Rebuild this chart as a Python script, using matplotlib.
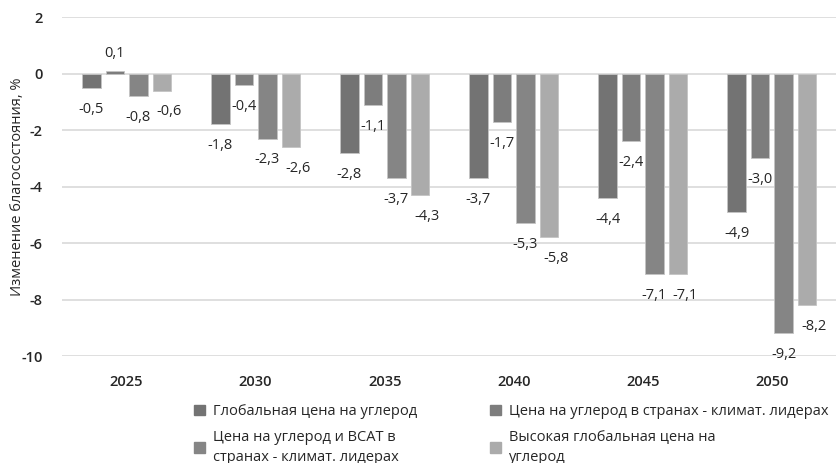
import matplotlib
matplotlib.use("Agg")
import matplotlib.pyplot as plt
import numpy as np

plt.rcParams['font.family'] = ['Open Sans', 'DejaVu Sans']

years = ["2025", "2030", "2035", "2040", "2045", "2050"]
series_names = [
    "Глобальная цена на углерод",
    "Цена на углерод в странах - климат. лидерах",
    "Цена на углерод и ВСАТ в\nстранах - климат. лидерах",
    "Высокая глобальная цена на\nуглерод",
]
global_price = [-0.5, -1.8, -2.8, -3.7, -4.4, -4.9]
leaders_price = [0.1, -0.4, -1.1, -1.7, -2.4, -3.0]
leaders_cbam = [-0.8, -2.3, -3.7, -5.3, -7.1, -9.2]
high_global = [-0.6, -2.6, -4.3, -5.8, -7.1, -8.2]
y_ticks = [2, 0, -2, -4, -6, -8, -10]

values = [global_price, leaders_price, leaders_cbam, high_global]
colors = ["#737373", "#7d7d7d", "#858585", "#ababab"]
# horizontal nudge of value labels per series (points)
label_dx = [0, 0, 0, 5]

fig = plt.figure(figsize=(8.38, 4.63), dpi=100)
ax = fig.add_axes([0.074, 0.231, 0.924, 0.732])

x = np.arange(len(years))
pitch = 0.182
width = 0.143
text_color = "#262626"

for i, (vals, col) in enumerate(zip(values, colors)):
    offs = (i - 1.5) * pitch
    ax.bar(x + offs, vals, width=width, color=col,
           edgecolor="#c4c4c4", linewidth=0.6, zorder=3)
    for xi, v in zip(x + offs, vals):
        lbl = f"{v:.1f}".replace(".", ",")
        if v >= 0:
            ax.annotate(lbl, (xi, v), xytext=(label_dx[i], 7), textcoords="offset points",
                        ha="center", va="bottom", fontsize=10.5, color=text_color)
        else:
            ax.annotate(lbl, (xi, v), xytext=(label_dx[i], -10), textcoords="offset points",
                        ha="center", va="top", fontsize=10.5, color=text_color)

ax.set_xlim(-0.5, len(years) - 0.5)
ax.set_ylim(-10, 2)
ax.set_yticks(y_ticks)
ax.set_yticklabels([str(t) for t in y_ticks])
ax.set_xticks(x)
ax.set_xticklabels(years)
ax.yaxis.grid(True, color="#d9d9d9", linewidth=1.2, zorder=0)
ax.set_axisbelow(True)
for s in ax.spines.values():
    s.set_visible(False)
ax.tick_params(axis="both", length=0, labelsize=10.5, colors=text_color)
ax.tick_params(axis="x", pad=14)
ax.tick_params(axis="y", pad=14)
for t in ax.get_xticklabels() + ax.get_yticklabels():
    t.set_fontweight("semibold")
ax.set_ylabel("Изменение благосостояния, %", fontsize=10.5, color=text_color)
ax.yaxis.set_label_coords(-0.048, 0.5)

# legend laid out row by row: two entries per row
order = [0, 2, 1, 3]
handles = [plt.Rectangle((0, 0), 1, 1, color=colors[k]) for k in order]
labels = [series_names[k] for k in order]
leg = fig.legend(handles, labels, ncol=2, loc="upper left",
                 bbox_to_anchor=(0.232, 0.128), frameon=False, fontsize=10.5,
                 handlelength=0.7, handleheight=0.7, handletextpad=0.6,
                 columnspacing=5.0, labelspacing=0.75, borderaxespad=0,
                 borderpad=0)
for t in leg.get_texts():
    t.set_color(text_color)
    t.set_linespacing(1.45)

fig.savefig("out.png", dpi=100)
